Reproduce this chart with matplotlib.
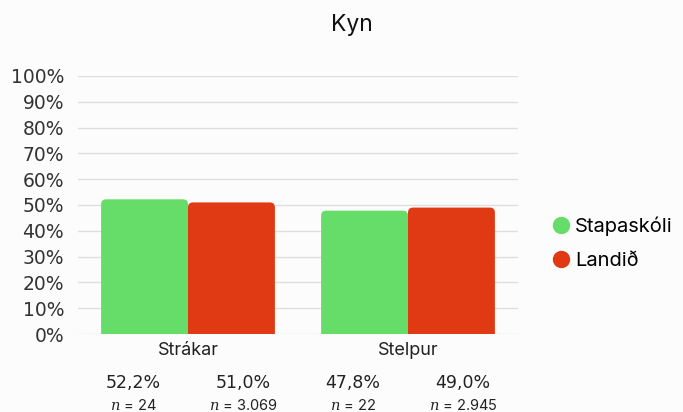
import matplotlib.pyplot as plt
from matplotlib.patches import FancyBboxPatch
from matplotlib.lines import Line2D

categories = ['Strákar', 'Stelpur']
series_names = ['Stapaskóli', 'Landið']
stapaskoli = [52.2, 47.8]
landid = [51.0, 49.0]
n_stapaskoli = ['24', '22']
n_landid = ['3.069', '2.945']
colors = ['#66dc69', '#df3a13']
yticks = [0, 10, 20, 30, 40, 50, 60, 70, 80, 90, 100]

plt.rcParams['font.family'] = ['Inter', 'DejaVu Sans']
plt.rcParams['mathtext.fontset'] = 'dejavuserif'

fig = plt.figure(figsize=(6.83, 4.12), dpi=100, facecolor='#fcfcfc')
ax = fig.add_axes([78 / 683, 1 - 334 / 412, 440 / 683, 258 / 412])
ax.set_facecolor('#fcfcfc')
ax.set_xlim(-0.5, 1.5)
ax.set_ylim(0, 100)

w = 0.395
x = list(range(len(categories)))
# px -> data conversion for rounded corners
xpp = 2 / 440
ypp = 100 / 258
r = 5 * xpp
for vals, off, col in [(stapaskoli, -w / 2, colors[0]), (landid, w / 2, colors[1])]:
    bars = ax.bar([i + off for i in x], vals, width=w, color=col)
    for b in bars:
        b.set_visible(False)
        p = FancyBboxPatch((b.get_x(), -5), b.get_width(), b.get_height() + 5,
                           boxstyle=f"round,pad=0,rounding_size={r}",
                           mutation_aspect=ypp / xpp, fc=col, ec='none', zorder=3)
        ax.add_patch(p)

ax.set_yticks(yticks)
ax.set_yticklabels([f'{t}%' for t in yticks], family='DejaVu Sans', fontsize=13.5, color='#333333')
ax.grid(axis='y', color='#dedede', lw=1, zorder=0)
ax.tick_params(axis='y', length=0, pad=10)
ax.set_xticks(x)
ax.set_xticklabels(categories, fontsize=13, color='#222222')
ax.tick_params(axis='x', length=0, pad=6)
for s in ax.spines.values():
    s.set_visible(False)

# value table under the categories
for i in x:
    for off, v, n in [(-0.25, stapaskoli[i], n_stapaskoli[i]), (0.25, landid[i], n_landid[i])]:
        lab = f'{v:.1f}%'.replace('.', ',')
        ax.text(i + off, -18.8, lab, ha='center', va='center', fontsize=12.5,
                family=['DejaVu Sans'], color='#222222', clip_on=False)
        ax.text(i + off, -27.8, f'$n$ = {n}', ha='center', va='center', fontsize=10.5,
                color='#222222', clip_on=False)

fig.text(352 / 683, 1 - 25 / 412, 'Kyn', ha='center', va='center', fontsize=16.5, color='#111111')

handles = [Line2D([], [], marker='o', ls='none', ms=11.5, color=c) for c in colors]
fig.legend(handles, series_names, loc='center left', bbox_to_anchor=(533 / 683, 1 - 243 / 412),
           frameon=False, fontsize=14.5, handletextpad=0.2, labelspacing=0.8, handlelength=1.0)

fig.savefig('out.png', dpi=100, facecolor=fig.get_facecolor())
